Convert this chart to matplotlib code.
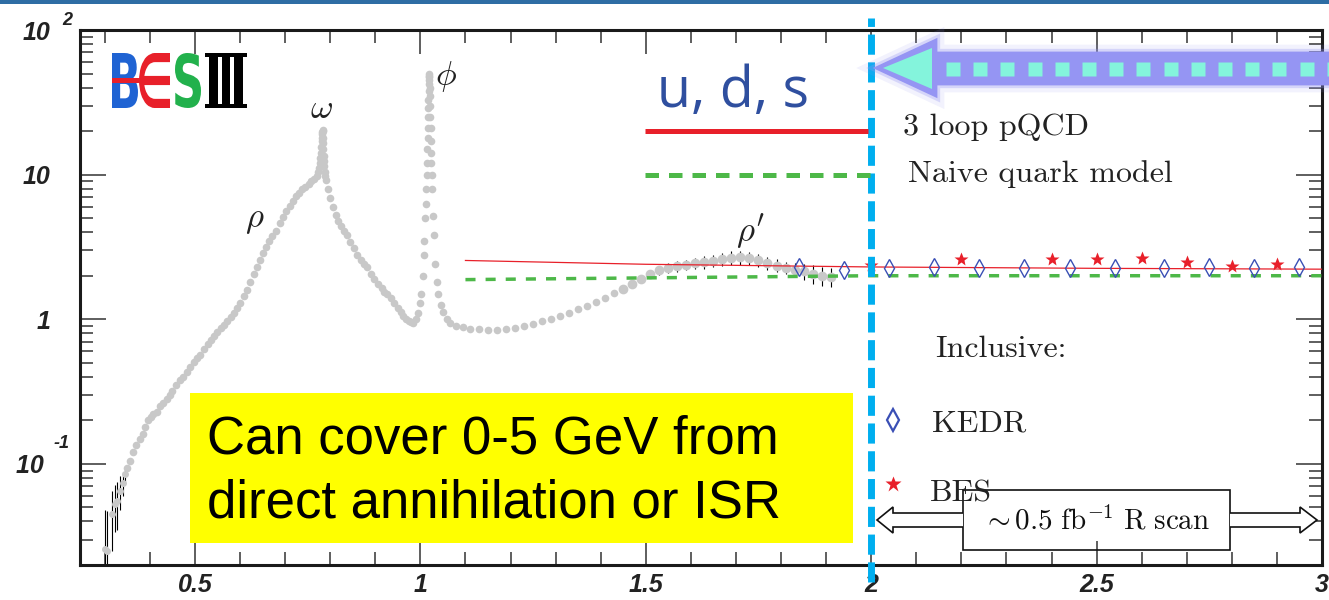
import numpy as np
import matplotlib.pyplot as plt
import matplotlib.patheffects as pe
from matplotlib.patches import Rectangle, Polygon, PathPatch
from matplotlib.textpath import TextPath
from matplotlib.font_manager import FontProperties
from matplotlib.transforms import Affine2D, blended_transform_factory
from matplotlib.ticker import FixedLocator, MultipleLocator, LogLocator, NullFormatter

plt.rcParams['mathtext.fontset'] = 'cm'

# R ratio measurements, sqrt(s) in GeV
thr_x = [0.300, 0.306, 0.316, 0.322, 0.328, 0.334, 0.340, 0.345]
thr_r = [0.026, 0.025, 0.045, 0.053, 0.055, 0.065, 0.074, 0.085]
thr_err = [0.022, 0.022, 0.020, 0.019, 0.020, 0.017, 0.014, 0.010]

main_x = [0.350, 0.356, 0.362, 0.370, 0.377, 0.384, 0.390, 0.395, 0.402, 0.408,
          0.415, 0.422, 0.430, 0.437, 0.444, 0.450, 0.458, 0.466, 0.474, 0.482,
          0.490, 0.498, 0.505, 0.512, 0.520, 0.528, 0.535, 0.542, 0.550, 0.558,
          0.565, 0.572, 0.579, 0.586, 0.593, 0.600, 0.608, 0.615, 0.622, 0.630,
          0.637, 0.644, 0.651, 0.658, 0.665, 0.672, 0.680, 0.688, 0.696, 0.703,
          0.710, 0.717, 0.724, 0.731, 0.738, 0.745, 0.752, 0.758, 0.764, 0.770,
          0.774, 0.7755, 0.777, 0.778, 0.779, 0.780, 0.781, 0.7815, 0.782, 0.7825,
          0.783, 0.7835, 0.784, 0.7845, 0.785, 0.7855, 0.786, 0.787, 0.788, 0.789,
          0.791, 0.795, 0.800, 0.806, 0.812, 0.818, 0.824, 0.830, 0.837, 0.845,
          0.852, 0.860, 0.868, 0.875, 0.882, 0.890, 0.898, 0.906, 0.914, 0.920,
          0.926, 0.934, 0.942, 0.950, 0.957, 0.962, 0.968, 0.975, 0.980, 0.984,
          0.990, 0.995, 0.999, 1.002, 1.005, 1.007, 1.009, 1.011, 1.012, 1.013,
          1.014, 1.015, 1.0155, 1.016, 1.0165, 1.017, 1.0175, 1.018, 1.0183, 1.0186,
          1.0189, 1.019, 1.0195, 1.020, 1.0205, 1.021, 1.0215, 1.022, 1.0225, 1.023,
          1.0235, 1.024, 1.025, 1.026, 1.028, 1.030, 1.033, 1.036, 1.040, 1.045,
          1.050, 1.058, 1.066, 1.080, 1.095, 1.11, 1.13, 1.15, 1.17, 1.19,
          1.21, 1.23, 1.25, 1.27, 1.29, 1.31, 1.33, 1.35, 1.37, 1.39,
          1.41, 1.43]
main_r = [0.094, 0.105, 0.12, 0.135, 0.148, 0.16, 0.18, 0.20, 0.21, 0.22,
          0.23, 0.25, 0.265, 0.28, 0.30, 0.32, 0.35, 0.38, 0.40, 0.43,
          0.47, 0.51, 0.54, 0.57, 0.62, 0.67, 0.72, 0.77, 0.82, 0.87,
          0.92, 0.97, 1.03, 1.11, 1.2, 1.3, 1.45, 1.6, 1.8, 2.05,
          2.3, 2.55, 2.85, 3.15, 3.45, 3.75, 4.1, 4.6, 5.1, 5.6,
          6.1, 6.6, 7.1, 7.5, 7.9, 8.2, 8.6, 9.0, 9.4, 9.8,
          10.5, 11.2, 12.0, 13.0, 14.0, 15.5, 17.0, 18.0, 19.0, 19.8,
          20.5, 20.0, 18.0, 16.5, 15.0, 13.5, 12.5, 11.5, 10.5, 9.8,
          9.2, 8.0, 6.9, 6.0, 5.3, 4.8, 4.4, 4.1, 3.8, 3.4,
          3.1, 2.8, 2.55, 2.4, 2.3, 2.05, 1.9, 1.75, 1.65, 1.55,
          1.5, 1.4, 1.3, 1.2, 1.13, 1.05, 1.0, 0.97, 0.95, 0.94,
          1.0, 1.1, 1.3, 1.5, 2.0, 2.8, 3.5, 5.0, 6.3, 7.9,
          10.0, 12.0, 15.0, 18.0, 21.0, 25.0, 29.0, 33.0, 38.0, 42.0,
          47.0, 50.0, 48.0, 45.0, 40.0, 35.0, 30.0, 25.0, 21.0, 17.0,
          14.0, 12.0, 10.0, 8.0, 5.2, 3.8, 2.4, 1.8, 1.5, 1.25,
          1.12, 1.0, 0.94, 0.9, 0.88, 0.86, 0.85, 0.84, 0.845, 0.855,
          0.87, 0.9, 0.93, 0.97, 1.01, 1.06, 1.11, 1.17, 1.24, 1.32,
          1.41, 1.51]

rho_x = [1.45, 1.47, 1.49, 1.51, 1.53, 1.55, 1.57, 1.59, 1.61, 1.63, 1.65, 1.67,
         1.69, 1.71, 1.73, 1.75, 1.77, 1.79, 1.81, 1.83, 1.85, 1.87, 1.89, 1.91]
rho_r = [1.62, 1.75, 1.9, 2.05, 2.18, 2.27, 2.33, 2.38, 2.43, 2.48, 2.54, 2.6,
         2.66, 2.68, 2.64, 2.55, 2.45, 2.35, 2.26, 2.2, 2.14, 2.06, 2.0, 1.96]
rho_err = [0.06, 0.08, 0.10, 0.12, 0.15, 0.18, 0.20, 0.20, 0.22, 0.24, 0.25, 0.27,
           0.30, 0.30, 0.28, 0.27, 0.25, 0.24, 0.22, 0.24, 0.28, 0.30, 0.30, 0.30]

kedr_x = [1.84, 1.94, 2.04, 2.14, 2.24, 2.34, 2.44, 2.54, 2.65, 2.75, 2.85, 2.95]
kedr_r = [2.3, 2.19, 2.27, 2.28, 2.25, 2.25, 2.25, 2.25, 2.25, 2.28, 2.25, 2.28]

bes_x = [2.0, 2.2, 2.4, 2.5, 2.6, 2.7, 2.8, 2.9]
bes_r = [2.37, 2.6, 2.6, 2.6, 2.65, 2.5, 2.35, 2.4]

pqcd_x = [1.1, 1.5, 2.0, 2.5, 3.0]
pqcd_r = [2.55, 2.4, 2.3, 2.25, 2.22]

naive_x = [1.1, 2.0, 3.0]
naive_r = [1.88, 2.0, 2.0]

ytick_vals = [0.1, 1, 10, 100]
ytick_text = ['10 ', '1', '10', '10']
xtick_vals = [0.5, 1, 1.5, 2, 2.5, 3]
xtick_text = ['0.5', '1', '1.5', '2', '2.5', '3']

W, H = 1329, 600
fig = plt.figure(figsize=(W / 100, H / 100), dpi=100)
ax = fig.add_axes([80 / W, 35 / H, 1242 / W, 535 / H])
ax.set_yscale('log')
ax.set_xlim(0.245, 3.0)
ax.set_ylim(0.02, 100)

tick_font = dict(family='Liberation Sans', weight='bold', style='italic', size=18)
ax.xaxis.set_major_locator(FixedLocator(xtick_vals))
ax.xaxis.set_minor_locator(MultipleLocator(0.1))
ax.set_xticklabels(xtick_text, **tick_font, color='#222')
ax.yaxis.set_major_locator(FixedLocator(ytick_vals))
ax.yaxis.set_minor_locator(LogLocator(base=10, subs=range(2, 10)))
ax.yaxis.set_minor_formatter(NullFormatter())
ax.set_yticklabels(ytick_text, **tick_font, color='#222')
ax.tick_params(which='both', direction='in', top=True, right=True,
               width=1.1, color='#333')
ax.tick_params(axis='x', which='major', length=17, pad=6)
ax.tick_params(axis='x', which='minor', length=9.5)
ax.tick_params(axis='y', which='major', length=19, pad=21)
ax.tick_params(axis='y', which='minor', length=9.5)
for sp in ax.spines.values():
    sp.set_linewidth(2.2)
    sp.set_color('#1a1a1a')

# data
gray = '#c8c8c8'
ax.errorbar(thr_x, thr_r, yerr=thr_err, fmt='none', ecolor='black',
            elinewidth=0.8, zorder=2)
ax.plot(thr_x, thr_r, 'o', color=gray, ms=5, mec='none', zorder=3)
ax.plot(main_x, main_r, 'o', color=gray, ms=5.5, mec='none', zorder=3)
ax.errorbar(rho_x, rho_r, yerr=rho_err, fmt='none', ecolor='black',
            elinewidth=0.8, zorder=2)
ax.plot(rho_x, rho_r, 'o', color=gray, ms=7, mec='none', zorder=3)

ax.plot(pqcd_x, pqcd_r, color='#e8202a', lw=0.9, zorder=4)
ax.plot(naive_x, naive_r, color='#4db848', lw=2.5, dashes=(2.9, 2.9), zorder=4)
ax.plot(kedr_x, kedr_r, 'd', mfc='none', mec='#3a4fb5', ms=9, mew=1.0, zorder=5)
ax.plot(bes_x, bes_r, '*', color='#e8202a', ms=10, mec='none', zorder=5)

# 2 GeV boundary
xb = blended_transform_factory(ax.transData, ax.transAxes)
ax.plot([2.0, 2.0], [-0.032, 1.022], transform=xb, color='#00aeef', lw=5,
        dashes=(2.9, 1.1), clip_on=False, zorder=6)

# annotation layer in pixel units
ov = fig.add_axes([0, 0, 1, 1])
ov.set_xlim(0, W)
ov.set_ylim(H, 0)
ov.axis('off')

ov.add_patch(Rectangle((0, 0), W, 4, fc='#2e6da4', ec='none'))

# exponents of the decade labels
sup = dict(family='Liberation Sans', weight='bold', style='italic', size=13,
           color='#222', ha='left', va='baseline')
ov.text(62, 25, '2', **sup)
ov.text(53, 448, '-1', **sup)

# glowing dotted arrow
glow = '#9595f3'
arrow = Polygon([(876, 68), (936, 40), (936, 53), (1345, 53), (1345, 84),
                 (936, 84), (936, 96)], closed=True, fc=glow, ec=glow, lw=2)
arrow.set_path_effects([pe.Stroke(linewidth=12, foreground=glow, alpha=0.12),
                        pe.Stroke(linewidth=6, foreground=glow, alpha=0.3),
                        pe.Normal()])
ov.add_patch(arrow)
cyan = '#84f4dc'
ov.add_patch(Polygon([(883, 68), (932, 48), (932, 89)], closed=True, fc=cyan, ec='none'))
sq = np.arange(953, 1345, 27.2)
ov.plot(sq, np.full(len(sq), 68.5), 's', color=cyan, ms=9.5, mec='none')

ov.text(733, 107, 'u, d, s', family='Open Sans', size=40, color='#2f4f9f',
        ha='center', va='baseline')

# legend
ov.plot([645, 868], [131, 131], color='#e8202a', lw=3.6, solid_capstyle='butt')
ov.plot([645, 870], [175, 175], color='#4db848', lw=3.6, dashes=(2.7, 2.0))
cm_txt = dict(family='cmr10', size=23, color='#222', va='baseline')
ov.text(903, 135, '3 loop pQCD', **cm_txt)
ov.text(908, 182, 'Naive quark model', **cm_txt)
ov.text(935, 357, 'Inclusive:', **cm_txt)
ov.text(932, 431, 'KEDR', **cm_txt)
ov.text(930, 502, 'BES', **cm_txt)
ov.plot(893, 420, 'd', mfc='none', mec='#3a4fb5', ms=11, mew=1.6)
ov.plot(893, 484, '*', color='#e8202a', ms=12, mec='none')

# scan range box and arrows
ov.add_patch(Rectangle((963, 490), 267, 60, fill=False, lw=1.2, ec='#111'))
ov.text(1096, 521, r'$\sim 0.5\ \mathrm{fb}^{-1}\ \mathrm{R\ scan}$', size=21,
        color='#111', ha='center', va='center')
ov.add_patch(Polygon([(963, 513), (893, 513), (893, 507), (877, 520), (893, 533),
                      (893, 527), (963, 527)], closed=False, fc='white', ec='#111', lw=1.2))
ov.add_patch(Polygon([(1230, 513), (1300, 513), (1300, 507), (1317, 520), (1300, 533),
                      (1300, 527), (1230, 527)], closed=False, fc='white', ec='#111', lw=1.2))

# yellow note
ov.add_patch(Rectangle((190, 393), 663, 150, fc='#ffff00', ec='none'))
note = dict(family='Liberation Sans', size=38, color='black', va='baseline')
ov.text(207, 453, 'Can cover 0-5 GeV from', **note)
ov.text(207, 518, 'direct annihilation or ISR', **note)

# resonance names
greek = dict(size=25, color='#222', ha='center', va='center')
ov.text(321, 108, r'$\omega$', **greek)
ov.text(255, 219, r'$\rho$', **greek)
ov.text(446, 77, r'$\phi$', **greek)
ov.text(750, 232, r"$\rho'$", **greek)


def glyph(ch, x, y, w, h, color, prop):
    tp = TextPath((0, 0), ch, size=100, prop=prop)
    bb = tp.get_extents()
    tr = Affine2D().translate(-bb.x0, -bb.y0).scale(w / bb.width, -h / bb.height).translate(x, y)
    ov.add_patch(PathPatch(tr.transform_path(tp), fc=color, ec='none'))


sans_b = FontProperties(family='DejaVu Sans', weight='bold')
serif_b = FontProperties(family='DejaVu Serif', weight='bold')
glyph('B', 112, 108, 26, 55, '#1f63d3', sans_b)
glyph('\u2208', 139, 108, 31, 55, '#e8202a', sans_b)
ov.add_patch(Rectangle((112, 78), 55, 5, fc='#e8202a', ec='none'))
glyph('S', 175, 108, 26, 55, '#22b14c', sans_b)
glyph('\u2162', 205, 108, 42, 55, 'black', serif_b)

fig.savefig('out.png', dpi=100, facecolor='white')
